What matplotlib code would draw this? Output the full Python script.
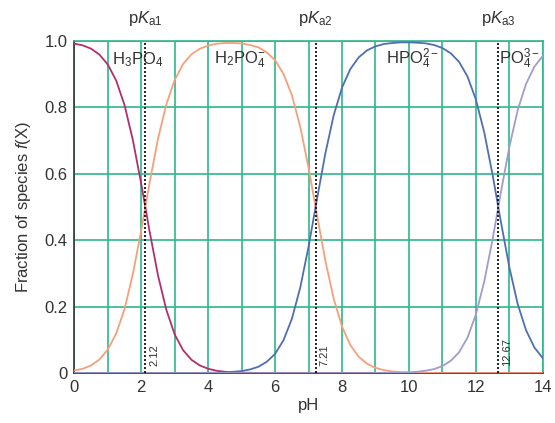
import numpy as np
import matplotlib.pyplot as plt
from matplotlib.ticker import MultipleLocator

plt.rcParams['font.family'] = ['Liberation Sans', 'DejaVu Sans']
plt.rcParams['mathtext.fontset'] = 'custom'
plt.rcParams['mathtext.rm'] = 'Liberation Sans'
plt.rcParams['mathtext.it'] = 'Liberation Sans:italic'

# pH sampling (every 0.25) and fractions
ph = np.arange(0, 14.01, 0.25)

h3po4 = [0.992, 0.987, 0.977, 0.959, 0.929, 0.881, 0.807, 0.701, 0.569, 0.426,
         0.294, 0.190, 0.116, 0.069, 0.040, 0.023, 0.013, 0.007, 0.004, 0.002,
         0.001, 0.001, 0.0] + [0.0] * 34

h2po4 = [0.008, 0.013, 0.023, 0.041, 0.071, 0.119, 0.193, 0.299, 0.431, 0.574,
         0.706, 0.810, 0.883, 0.931, 0.960, 0.977, 0.986, 0.992, 0.994, 0.994,
         0.993, 0.988, 0.981, 0.966, 0.942, 0.901, 0.837, 0.742, 0.618, 0.477,
         0.339, 0.224, 0.140, 0.084, 0.049, 0.028, 0.016, 0.009, 0.005, 0.003,
         0.002, 0.001, 0.0005, 0.0003] + [0.0] * 13

hpo4 = [0.0] * 16 + [
         0.001, 0.001, 0.002, 0.004, 0.006, 0.011, 0.019, 0.034, 0.058, 0.099,
         0.163, 0.257, 0.381, 0.523, 0.661, 0.776, 0.860, 0.916, 0.951, 0.972,
         0.984, 0.991, 0.994, 0.996, 0.996, 0.995, 0.993, 0.988, 0.979, 0.963,
         0.937, 0.893, 0.824, 0.725, 0.597, 0.454, 0.319, 0.208, 0.129, 0.077,
         0.045]

po4 = [0.0] * 36 + [
         0.0002, 0.0004, 0.0007, 0.001, 0.002, 0.004, 0.007, 0.012, 0.021, 0.037,
         0.063, 0.107, 0.176, 0.276, 0.403, 0.546, 0.681, 0.792, 0.871, 0.923,
         0.955]

pka = [2.12, 7.21, 12.67]
pka_names = [r'p$\mathit{K}_{\mathrm{a1}}$', r'p$\mathit{K}_{\mathrm{a2}}$',
             r'p$\mathit{K}_{\mathrm{a3}}$']
species = [r'H$_3$PO$_4$', r'H$_2$PO$_4^{-}$', r'HPO$_4^{2-}$', r'PO$_4^{3-}$']
species_x = [1.9, 4.95, 10.1, 13.3]

grid_c = '#2db78b'
txt_c = '#333333'

fig = plt.figure(figsize=(5.55, 4.23), dpi=100)
ax = fig.add_axes([0.134, 0.118, 0.844, 0.785])

ax.xaxis.set_minor_locator(MultipleLocator(1))
ax.yaxis.set_major_locator(MultipleLocator(0.2))
ax.grid(True, which='both', color=grid_c, linewidth=1.2, zorder=0)
ax.set_axisbelow(True)

ax.plot(ph, h3po4, color='#b0306e', lw=1.3, zorder=3)
ax.plot(ph, h2po4, color='#f5a07c', lw=1.3, zorder=3)
ax.plot(ph, hpo4, color='#4e6fb3', lw=1.3, zorder=3)
ax.plot(ph, po4, color='#a09ccc', lw=1.3, zorder=3)

for p, name in zip(pka, pka_names):
    ax.axvline(p, color='black', ls=(0, (1.2, 1.2)), lw=1.2, zorder=4)
    ax.text(p, 1.04, name, ha='center', va='bottom', fontsize=12, color=txt_c)
    ax.text(p + 0.12, 0.02, f'{p:.2f}', rotation=90, ha='left', va='bottom',
            fontsize=8, color=txt_c, zorder=5)

for x, s in zip(species_x, species):
    ax.text(x, 0.945, s, ha='center', va='center', fontsize=12, color=txt_c, zorder=5)

ax.set_xlim(0, 14)
ax.set_ylim(0, 1.0)
ax.set_xticks(np.arange(0, 15, 2))
ax.set_yticks([0, 0.2, 0.4, 0.6, 0.8, 1.0])
ax.set_yticklabels(['0', '0.2', '0.4', '0.6', '0.8', '1.0'])
ax.tick_params(which='both', length=0, labelsize=12, labelcolor=txt_c, pad=5)

ax.set_xlabel('pH', fontsize=12, color=txt_c, labelpad=2)
ax.set_ylabel(r'Fraction of species $\mathit{f}$(X)', fontsize=12, color=txt_c, labelpad=8)

for side in ['top', 'right']:
    ax.spines[side].set_color(grid_c)
    ax.spines[side].set_linewidth(1.2)
for side in ['left', 'bottom']:
    ax.spines[side].set_color('#333333')
    ax.spines[side].set_linewidth(1.2)

fig.savefig('out.png', dpi=100)
